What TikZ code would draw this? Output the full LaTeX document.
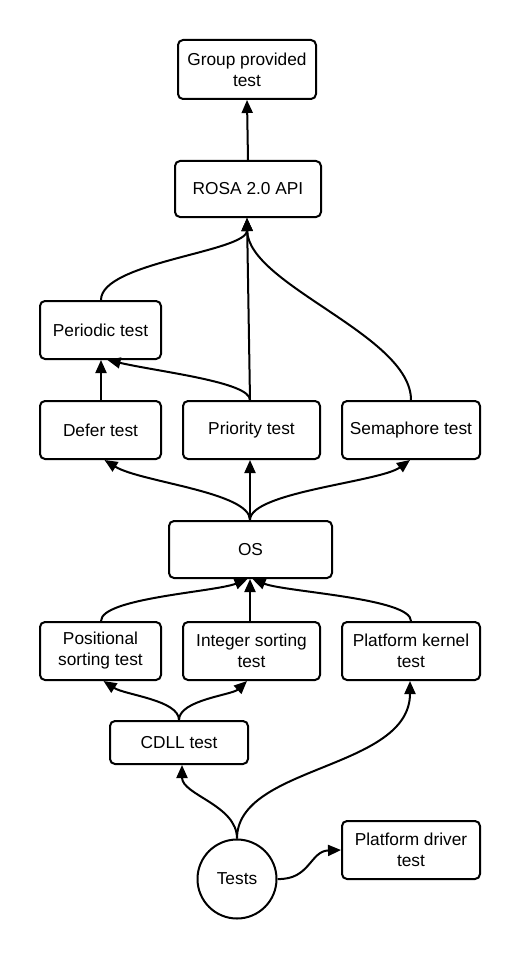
\documentclass[tikz,border=0pt]{standalone}
\usepackage{fontspec}
\setmainfont{Liberation Sans}
\usetikzlibrary{arrows.meta}
\begin{document}
\begin{tikzpicture}[x=1pt,y=-1pt,
  box/.style={draw, line width=2pt, rounded corners=5pt, align=center, inner sep=2pt,
    font=\fontsize{17.3}{21}\selectfont},
  circ/.style={draw, circle, line width=2pt, minimum size=79pt, inner sep=0pt,
    font=\fontsize{17.3}{21}\selectfont},
  conn/.style={line width=2pt, -{Triangle[length=13pt,width=11pt]}}]
\useasboundingbox (0,0) rectangle (521,960);
\node[box, minimum width=138pt, minimum height=59pt] (group) at (247,69.5) {Group provided\\test};
\node[box, minimum width=146pt, minimum height=56pt] (rosa) at (248,189) {ROSA 2.0 API};
\node[box, minimum width=121pt, minimum height=58pt] (periodic) at (100.5,330) {Periodic test};
\node[box, minimum width=121pt, minimum height=58pt] (defer) at (100.5,430) {Defer test};
\node[box, minimum width=137pt, minimum height=58pt] (priority) at (251.5,430) {Priority test};
\node[box, minimum width=138pt, minimum height=58pt] (sema) at (411,430) {Semaphore test};
\node[box, minimum width=163pt, minimum height=57pt] (os) at (250.5,549.5) {OS};
\node[box, minimum width=121pt, minimum height=58pt] (pos) at (100.5,651) {Positional\\sorting test};
\node[box, minimum width=137pt, minimum height=58pt] (int) at (251.5,651) {Integer sorting\\test};
\node[box, minimum width=138pt, minimum height=58pt] (kernel) at (411,651) {Platform kernel\\test};
\node[box, minimum width=138pt, minimum height=43pt] (cdll) at (179,742.5) {CDLL test};
\node[circ] (tests) at (237,879) {Tests};
\node[box, minimum width=138pt, minimum height=58pt] (driver) at (411,850) {Platform driver\\test};

\draw[conn] (rosa.north) -- (group.south);
\draw[conn] ([xshift=0.5pt]periodic.north) .. controls (101,262) and (247,252) .. ([xshift=-1pt]rosa.south);
\draw[conn] ([xshift=-1.5pt]priority.north) -- ([xshift=-1pt]rosa.south);
\draw[conn] (sema.north) .. controls (411,335) and (248,285) .. ([xshift=-1pt]rosa.south);
\draw[conn] ([xshift=-1.5pt]priority.north) .. controls (250,382) and (160,372) .. ([xshift=7pt]periodic.south);
\draw[conn] ([xshift=0.5pt]defer.north) -- ([xshift=0.5pt]periodic.south);
\draw[conn] ([xshift=-0.5pt]os.north) .. controls (250,492) and (140,482) .. ([xshift=4pt]defer.south);
\draw[conn] ([xshift=-0.5pt]os.north) -- ([xshift=-1.5pt]priority.south);
\draw[conn] ([xshift=-0.5pt]os.north) .. controls (250,492) and (380,482) .. ([xshift=-1pt]sema.south);
\draw[conn] ([xshift=0.5pt]pos.north) .. controls (101,598) and (215,592) .. ([xshift=-3pt]os.south);
\draw[conn] ([xshift=-1.5pt]int.north) -- ([xshift=-0.5pt]os.south);
\draw[conn] (kernel.north) .. controls (411,598) and (285,592) .. ([xshift=2pt]os.south);
\draw[conn] (cdll.north) .. controls (179,700) and (125,695) .. ([xshift=3pt]pos.south);
\draw[conn] (cdll.north) .. controls (179,700) and (232,695) .. ([xshift=-4.5pt]int.south);
\draw[conn] (tests.north) .. controls (237,805) and (182,795) .. ([xshift=3pt]cdll.south);
\draw[conn] (tests.north) .. controls (237,765) and (410,770) .. ([xshift=-1pt]kernel.south);
\draw[conn] (tests.east) .. controls (310,880) and (310,851) .. (driver.west);
\end{tikzpicture}
\end{document}
